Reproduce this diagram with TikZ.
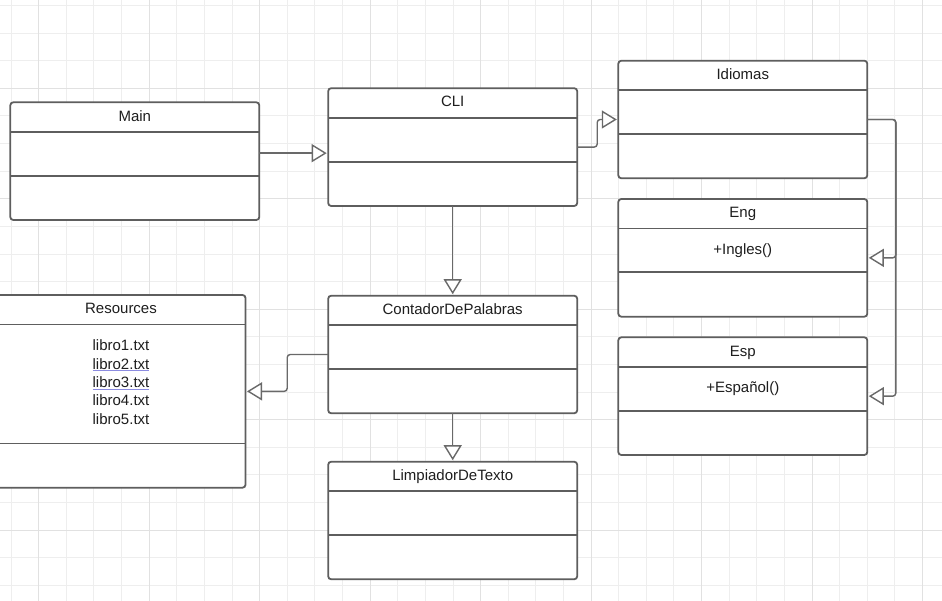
\documentclass[tikz,border=0pt]{standalone}
\usepackage{fontspec}
\setmainfont{Liberation Sans}
\usepackage{tikz}
\usetikzlibrary{arrows.meta,calc}

\definecolor{gridminor}{RGB}{238,238,238}
\definecolor{gridmajor}{RGB}{225,225,225}
\definecolor{boxline}{RGB}{94,94,94}
\definecolor{arrowline}{RGB}{105,105,105}
\definecolor{textcol}{RGB}{30,30,30}
\definecolor{spellline}{RGB}{140,140,225}

\tikzset{
  classbox/.style={draw=boxline, line width=1.8pt, fill=white, rounded corners=3pt,
    minimum width=249pt, inner sep=0pt, outer sep=0pt, anchor=north},
  divider/.style={draw=boxline, line width=1.8pt},
  classtext/.style={text=textcol, font=\fontsize{15}{18.4}\selectfont, inner sep=0pt,
    align=center},
  inherits/.style={draw=arrowline, line width=1.4pt, rounded corners=3pt, shorten >=1.5pt,
    -{Triangle[fill=white, length=15pt, width=18pt]}},
}

% name, centre x, top y, height, title, attributes
\newcommand{\umlclass}[6]{%
  \node[classbox, minimum height=#4] (#1) at (#2,#3) {};
  \draw[divider] ($(#1.north west)+(0,29.5)$) -- ($(#1.north east)+(0,29.5)$);
  \draw[divider] ($(#1.south west)-(0,44.3)$) -- ($(#1.south east)-(0,44.3)$);
  \node[classtext, anchor=base] (#1-title) at ($(#1.north)+(0,18.8)$) {#5};
  \node[classtext, anchor=north] (#1-body) at ($(#1.north)+(0,44.6)$) {#6};
}
\newcommand{\spellmark}[1]{{\color{spellline}\underline{\color{textcol}#1}}}

\begin{document}
\begin{tikzpicture}[x=1pt, y=-1pt]
  \useasboundingbox (0,0) rectangle (942,601);
  \clip (0,0) rectangle (942,601);
  \fill[white] (0,0) rectangle (942,601);
  % grid
  \foreach \k in {0,...,34}
    \draw[gridminor, line width=1pt] (11.08+27.62*\k,0) -- (11.08+27.62*\k,601);
  \foreach \k in {0,...,21}
    \draw[gridminor, line width=1pt] (0,5.44+27.62*\k) -- (942,5.44+27.62*\k);
  \foreach \k in {1,5,...,33}
    \draw[gridmajor, line width=1pt] (11.08+27.62*\k,0) -- (11.08+27.62*\k,601);
  \foreach \k in {3,7,...,19}
    \draw[gridmajor, line width=1pt] (0,5.44+27.62*\k) -- (942,5.44+27.62*\k);

  \umlclass{main}{134.8}{102.3}{117.7}{Main}{}
  \umlclass{cli}{452.7}{88.2}{117.8}{CLI}{}
  \umlclass{idiomas}{742.8}{60.7}{117.6}{Idiomas}{}
  \umlclass{eng}{742.8}{199}{117.7}{Eng}{+Ingles()}
  \umlclass{esp}{742.8}{337.3}{117.7}{Esp}{+Español()}
  \umlclass{resources}{121}{295}{192.7}{Resources}{libro1.txt\\ \spellmark{libro2.txt}\\
    \spellmark{libro3.txt}\\ libro4.txt\\ libro5.txt}
  \umlclass{contador}{452.7}{295.7}{117.6}{ContadorDePalabras}{}
  \umlclass{limpiador}{452.7}{461.7}{117.6}{LimpiadorDeTexto}{}

  \draw[inherits] ([yshift=8pt]main.east) -- ([yshift=8pt]main.east -| cli.west);
  \draw[inherits] (cli.east) -- ++(20,0) |- (idiomas.west);
  \draw[inherits] (idiomas.east) -- ++(28.5,0) |- (eng.east);
  \draw[inherits] (idiomas.east) -- ++(28.5,0) |- (esp.east);
  \draw[inherits] (cli.south) -- (contador.north);
  \draw[inherits] (contador.south) -- (limpiador.north);
  \draw[inherits] (contador.west) -- ++(-41,0) |- (resources.east);
\end{tikzpicture}
\end{document}
